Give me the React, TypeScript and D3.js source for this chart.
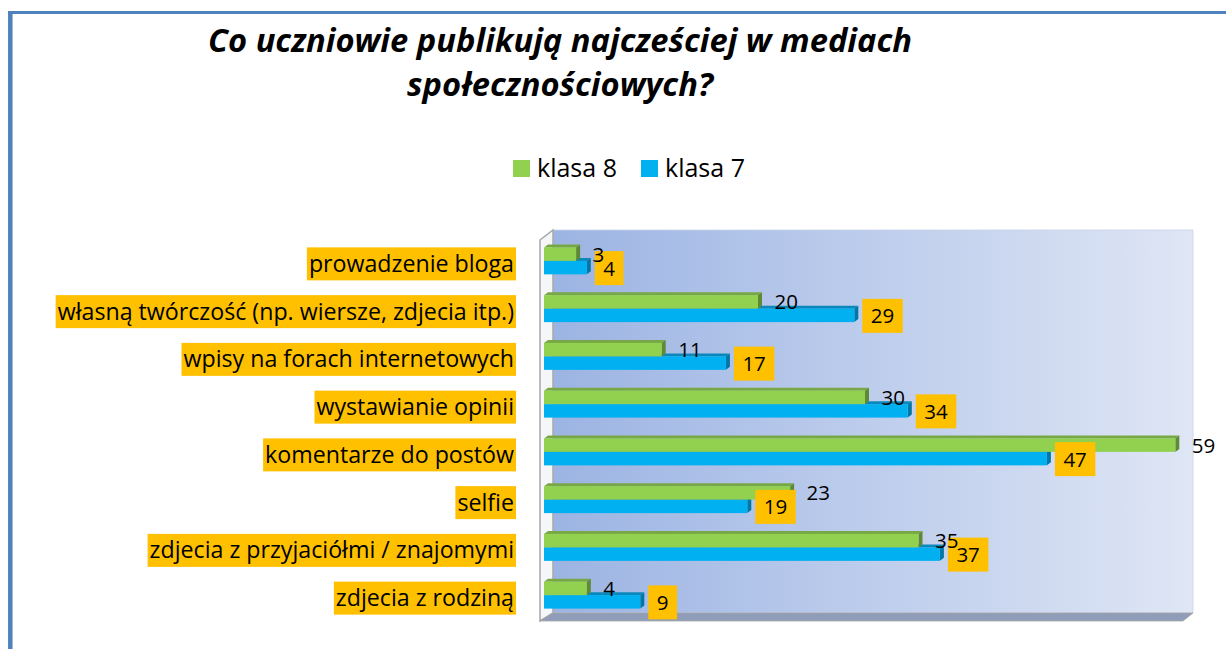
import React, { useEffect, useRef } from "react"
import * as d3 from "d3"

// data
const categories = [
  "prowadzenie bloga",
  "własną twórczość (np. wiersze, zdjecia itp.)",
  "wpisy na forach internetowych",
  "wystawianie opinii",
  "komentarze do postów",
  "selfie",
  "zdjecia z przyjaciółmi / znajomymi",
  "zdjecia z rodziną",
]
const seriesNames = ["klasa 8", "klasa 7"]
const klasa8 = [3, 20, 11, 30, 59, 23, 35, 4]
const klasa7 = [4, 29, 17, 34, 47, 19, 37, 9]
const titleLines = ["Co uczniowie publikują najcześciej w mediach", "społecznościowych?"]

const FONT = "'Open Sans', sans-serif"

export default function App() {
  const ref = useRef<SVGSVGElement>(null)

  useEffect(() => {
    const svg = d3.select(ref.current)
    svg.selectAll("*").remove()

    const W = 1226,
      H = 649
    const dx = 4,
      dy = 3 // 3d depth of the bars

    const x = d3.scaleLinear().domain([0, 60]).range([544, 1186])
    const y = d3.scaleBand().domain(categories).range([237, 619])
    const sub = d3
      .scaleBand()
      .domain(seriesNames)
      .range([0, y.bandwidth()])
      .paddingOuter(0.77)

    svg.attr("width", W).attr("height", H)
    svg.append("rect").attr("width", W).attr("height", H).attr("fill", "#fff")

    const defs = svg.append("defs")
    const grad = defs
      .append("linearGradient")
      .attr("id", "wall")
      .attr("x1", 0)
      .attr("x2", 1)
      .attr("y1", 0)
      .attr("y2", 0)
    grad.append("stop").attr("offset", 0).attr("stop-color", "#9cb4e3")
    grad.append("stop").attr("offset", 1).attr("stop-color", "#dfe6f5")

    // frame
    svg.append("line").attr("x1", 8).attr("x2", W).attr("y1", 12.5).attr("y2", 12.5)
      .attr("stroke", "#4f81bd").attr("stroke-width", 3)
    svg.append("line").attr("x1", 10.3).attr("x2", 10.3).attr("y1", 11).attr("y2", H)
      .attr("stroke", "#4f81bd").attr("stroke-width", 4.5)

    // title
    svg.append("text")
      .attr("font-family", FONT)
      .attr("font-weight", "bold")
      .attr("font-style", "italic")
      .attr("font-size", 32.7)
      .attr("text-anchor", "middle")
      .selectAll("tspan")
      .data(titleLines)
      .enter()
      .append("tspan")
      .attr("x", 560)
      .attr("y", (d, i) => 52 + i * 44)
      .text((d) => d)

    // legend
    const colors = { front: ["#92d050", "#00b0f0"], top: ["#78a845", "#0a88bb"], side: ["#5f8a34", "#0077a6"] }
    const legend = svg.append("g")
    const legX = [513, 641]
    seriesNames.forEach((s, i) => {
      legend.append("rect").attr("x", legX[i]).attr("y", 160).attr("width", 17).attr("height", 17)
        .attr("fill", colors.front[i])
      legend.append("text").attr("x", legX[i] + 24).attr("y", 177)
        .attr("font-family", FONT).attr("font-size", 25).attr("fill", "#000").text(s)
    })

    // 3d plot area
    const top = 230,
      bottom = 613,
      wallL = 553,
      wallR = 1193
    svg.append("rect").attr("x", wallL).attr("y", top).attr("width", wallR - wallL)
      .attr("height", bottom - top).attr("fill", "url(#wall)").attr("stroke", "#c9d3e8").attr("stroke-width", 0.8)
    // side wall
    svg.append("path")
      .attr("d", `M540,${top + 10}L${wallL},${top}L${wallL},${bottom}L540,${bottom + 8}Z`)
      .attr("fill", "#f4f6fa").attr("stroke", "#a6a6a6").attr("stroke-width", 1.5)
    // floor
    svg.append("path")
      .attr("d", `M540,${bottom + 8}L${wallR - 10},${bottom + 8}L${wallR},${bottom}L${wallL},${bottom}Z`)
      .attr("fill", "#8f9db8").attr("stroke", "#a6a6a6").attr("stroke-width", 0.8)

    const drawBar = (g, v, y0, h, i) => {
      const x0 = x(0),
        x1 = x(v)
      g.append("path")
        .attr("d", `M${x0},${y0}L${x0 + dx},${y0 - dy}L${x1 + dx},${y0 - dy}L${x1},${y0}Z`)
        .attr("fill", colors.top[i])
      g.append("path")
        .attr("d", `M${x1},${y0}L${x1 + dx},${y0 - dy}L${x1 + dx},${y0 + h - dy}L${x1},${y0 + h}Z`)
        .attr("fill", colors.side[i])
      g.append("rect").attr("x", x0).attr("y", y0).attr("width", x1 - x0).attr("height", h)
        .attr("fill", colors.front[i])
    }

    const bars = svg.append("g")
    categories.forEach((c, k) => {
      const g = bars.append("g")
      // klasa 7 first so klasa 8 covers its top face
      drawBar(g, klasa7[k], y(c) + sub("klasa 7"), sub.bandwidth(), 1)
      drawBar(g, klasa8[k], y(c) + sub("klasa 8"), sub.bandwidth(), 0)
    })

    // category labels with orange highlight
    const catG = svg.append("g")
    categories.forEach((c) => {
      const cy = y(c) + y.bandwidth() / 2 + 3
      const t = catG.append("text").attr("x", 514).attr("y", cy + 8)
        .attr("text-anchor", "end").attr("font-family", FONT).attr("font-size", 23.2)
        .attr("fill", "#000").text(c)
      const w = (t.node() as SVGTextElement).getComputedTextLength()
      catG.insert("rect", "text").attr("x", 514 - w - 2).attr("y", cy - 16.5)
        .attr("width", w + 4).attr("height", 33).attr("fill", "#ffc000")
    })

    // value labels
    const valG = svg.append("g").attr("font-family", FONT).attr("font-size", 20.5)
    categories.forEach((c, k) => {
      const gy = y(c) + sub("klasa 8") + sub.bandwidth() / 2
      const by = y(c) + sub("klasa 7") + sub.bandwidth() / 2 + 0.5
      const bx = x(klasa7[k]) + dx + 4
      const bt = valG.append("text").attr("x", bx + 8.5).attr("y", by + 7.5).text(klasa7[k])
      const bw = (bt.node() as SVGTextElement).getComputedTextLength()
      valG.insert("rect", "text").attr("x", bx).attr("y", by - 17).attr("width", bw + 17)
        .attr("height", 34).attr("fill", "#ffc000")
      valG.append("text").attr("x", x(klasa8[k]) + dx + 12.5).attr("y", gy + 7.5).text(klasa8[k])
    })
  }, [])

  return (
    <svg ref={ref} style={{ position: "absolute", left: 0, top: 0, display: "block" }} />
  )
}
